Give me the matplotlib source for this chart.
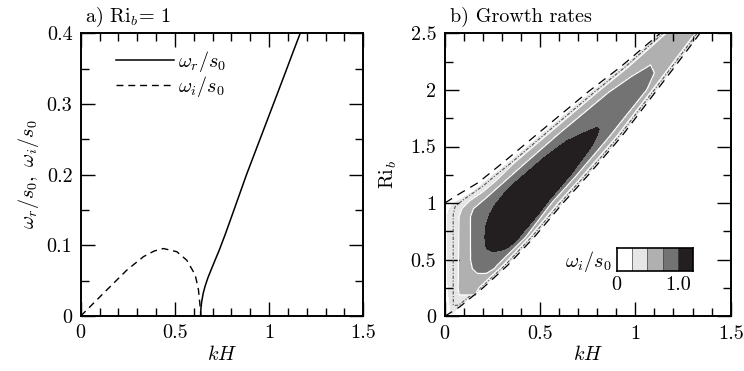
import numpy as np
import matplotlib
matplotlib.use("Agg")
import matplotlib.pyplot as plt
from matplotlib.colors import ListedColormap

plt.rcParams['font.family'] = 'cmr10'
plt.rcParams['mathtext.fontset'] = 'cm'
plt.rcParams['axes.formatter.use_mathtext'] = True
plt.rcParams['font.size'] = 14.5

# ---- panel a) dispersion curves at Ri_b = 1 ----
wr_kh = [0.636, 0.638, 0.642, 0.65, 0.66, 0.675, 0.69, 0.71, 0.735, 0.765, 0.8,
         0.84, 0.88, 0.93, 0.98, 1.03, 1.08, 1.125, 1.165]
wr_val = [0.0, 0.01, 0.02, 0.032, 0.042, 0.054, 0.064, 0.077, 0.093, 0.114, 0.14,
          0.17, 0.2, 0.235, 0.27, 0.305, 0.34, 0.372, 0.4]
wi_kh = [0.0, 0.06, 0.12, 0.245, 0.333, 0.39, 0.439, 0.51, 0.563, 0.608, 0.625, 0.634, 0.638]
wi_val = [0.0, 0.016, 0.032, 0.065, 0.084, 0.092, 0.0955, 0.091, 0.079, 0.058, 0.037, 0.013, 0.0]

# ---- panel b) growth rate contours: edges (Ri, kH) of each level ----
lev_a_left_ri = [0.03, 0.3, 0.9, 0.95, 1.0, 1.05, 1.1, 1.18, 1.35, 1.63, 1.98, 2.2, 2.5, 2.65]
lev_a_left_kh = [0.03, 0.015, 0.015, 0.025, 0.05, 0.1, 0.15, 0.205, 0.33, 0.525, 0.77, 0.935, 1.135, 1.235]
lev_a_right_ri = [0.03, 0.085, 0.25, 0.45, 0.7, 1.0, 1.233, 1.47, 1.59, 2.19, 2.48, 2.65]
lev_a_right_kh = [0.045, 0.075, 0.195, 0.325, 0.465, 0.615, 0.74, 0.862, 0.923, 1.195, 1.325, 1.39]

lev_b_left_ri = [0.1, 0.9, 0.97, 1.02, 1.08, 1.15, 1.25, 1.35, 1.63, 1.98, 2.2, 2.5, 2.65]
lev_b_left_kh = [0.045, 0.045, 0.055, 0.09, 0.14, 0.2, 0.27, 0.345, 0.54, 0.785, 0.945, 1.145, 1.245]
lev_b_right_ri = [0.1, 0.25, 0.45, 0.7, 1.0, 1.233, 1.47, 1.59, 2.19, 2.48, 2.65]
lev_b_right_kh = [0.075, 0.185, 0.315, 0.455, 0.605, 0.73, 0.852, 0.913, 1.185, 1.315, 1.38]

lev_c_left_ri = [0.19, 0.25, 0.88, 0.95, 1.02, 1.1, 1.2, 1.35, 1.63, 1.98, 2.2, 2.5, 2.65]
lev_c_left_kh = [0.075, 0.07, 0.075, 0.09, 0.13, 0.2, 0.27, 0.36, 0.555, 0.8, 0.96, 1.16, 1.26]
lev_c_right_ri = [0.19, 0.25, 0.45, 0.7, 1.0, 1.233, 1.47, 1.59, 2.19, 2.48, 2.65]
lev_c_right_kh = [0.16, 0.18, 0.305, 0.445, 0.595, 0.72, 0.842, 0.903, 1.175, 1.305, 1.37]

lev_d_left_ri = [0.38, 0.42, 0.5, 0.88, 0.95, 1.05, 1.2, 1.35, 1.63, 1.98, 2.12, 2.19, 2.22]
lev_d_left_kh = [0.17, 0.145, 0.135, 0.135, 0.15, 0.22, 0.32, 0.42, 0.61, 0.86, 0.98, 1.05, 1.08]
lev_d_right_ri = [0.38, 0.42, 0.45, 0.7, 1.0, 1.233, 1.47, 1.59, 2.0, 2.15, 2.22]
lev_d_right_kh = [0.22, 0.26, 0.275, 0.425, 0.56, 0.685, 0.805, 0.865, 1.06, 1.1, 1.08]

lev_e_left_ri = [0.575, 0.59, 0.62, 0.7, 0.8, 0.9, 1.0, 1.14, 1.4, 1.55, 1.62, 1.67]
lev_e_left_kh = [0.25, 0.225, 0.215, 0.21, 0.215, 0.235, 0.27, 0.34, 0.52, 0.64, 0.73, 0.8]
lev_e_right_ri = [0.575, 0.58, 0.6, 0.65, 0.7, 0.9, 1.0, 1.26, 1.5, 1.6, 1.65, 1.67]
lev_e_right_kh = [0.25, 0.29, 0.325, 0.365, 0.39, 0.49, 0.535, 0.665, 0.77, 0.8, 0.81, 0.8]

level_values = [0.125, 0.25, 0.5, 0.75, 1.0]

# bounding curves (dashed)
upper_kh = [0.0, 0.08, 0.175, 0.3, 0.5, 0.75, 0.92, 1.13, 1.16]
upper_ri = [1.0, 1.085, 1.18, 1.35, 1.63, 1.98, 2.2, 2.5, 2.54]
lower_kh = [0.0, 0.08, 0.2, 0.33, 0.47, 0.62, 0.745, 0.867, 0.928, 1.2, 1.33, 1.35]
lower_ri = [0.0, 0.085, 0.25, 0.45, 0.7, 1.0, 1.233, 1.47, 1.59, 2.19, 2.48, 2.53]

gray_colors = ['#ffffff', '#e6e6e6', '#b0b0b0', '#737373', '#231f20']
cbar_edges = [0.0, 0.25, 0.5, 0.75, 1.0, 1.25]


def build_field(kh_grid, ri_grid):
    edges = [
        (lev_a_left_ri, lev_a_left_kh, lev_a_right_ri, lev_a_right_kh),
        (lev_b_left_ri, lev_b_left_kh, lev_b_right_ri, lev_b_right_kh),
        (lev_c_left_ri, lev_c_left_kh, lev_c_right_ri, lev_c_right_kh),
        (lev_d_left_ri, lev_d_left_kh, lev_d_right_ri, lev_d_right_kh),
        (lev_e_left_ri, lev_e_left_kh, lev_e_right_ri, lev_e_right_kh),
    ]
    Z = np.zeros((len(ri_grid), len(kh_grid)))
    for i, ri in enumerate(ri_grid):
        lefts, rights, vals = [], [], []
        for (lr, lk, rr, rk), v in zip(edges, level_values):
            if lr[0] <= ri <= lr[-1] and rr[0] <= ri <= rr[-1]:
                lefts.append(np.interp(ri, lr, lk))
                rights.append(np.interp(ri, rr, rk))
                vals.append(v)
        if not vals:
            continue
        peak_x = 0.5 * (lefts[-1] + rights[-1])
        xs = lefts + [peak_x] + rights[::-1]
        vs = vals + [vals[-1] + 0.1] + vals[::-1]
        xs = np.maximum.accumulate(np.array(xs) + np.arange(len(xs)) * 1e-6)
        Z[i] = np.interp(kh_grid, xs, vs, left=0.0, right=0.0)
    return Z


def style_axes(ax):
    for s in ax.spines.values():
        s.set_linewidth(1.4)
    ax.tick_params(which='both', direction='in', top=True, right=True, width=1.0)
    ax.tick_params(which='major', length=10, pad=6)
    ax.tick_params(which='minor', length=5.5)


fig = plt.figure(figsize=(7.44, 3.71), dpi=100)

# ---------------- panel a ----------------
ax1 = fig.add_axes([0.1085, 0.1482, 0.3798, 0.762])
ax1.plot(wr_kh, wr_val, color='black', lw=1.1, label=r'$\omega_r/s_0$')
ax1.plot(wi_kh, wi_val, color='black', lw=1.0, dashes=(5, 3.5), label=r'$\omega_i/s_0$')
ax1.set_xlim(0, 1.5)
ax1.set_ylim(0, 0.4)
ax1.set_xticks([0, 0.5, 1.0, 1.5], ['0', '0.5', '1', '1.5'])
ax1.set_xticks(np.arange(0, 1.5, 0.1), minor=True)
ax1.set_yticks([0, 0.1, 0.2, 0.3, 0.4], ['0', '0.1', '0.2', '0.3', '0.4'])
ax1.set_yticks(np.arange(0, 0.4, 0.05), minor=True)
style_axes(ax1)
ax1.set_xlabel(r'$kH$', labelpad=2)
ax1.set_ylabel(r'$\omega_r/s_0,\ \omega_i/s_0$', labelpad=4)
ax1.text(0.015, 1.04, r'a) Ri$_b$= 1', transform=ax1.transAxes, va='baseline', ha='left')
ax1.legend(loc='upper left', bbox_to_anchor=(0.125, 0.945), frameon=False,
           handlelength=2.9, handletextpad=0.2, labelspacing=0.0,
           borderpad=0, borderaxespad=0)

# ---------------- panel b ----------------
ax2 = fig.add_axes([0.5977, 0.1474, 0.3844, 0.7628])
kh_grid = np.linspace(0, 1.5, 751)
ri_grid = np.linspace(0, 2.6, 521)
Z = build_field(kh_grid, ri_grid)
ax2.contourf(kh_grid, ri_grid, Z, levels=[level_values[0], level_values[2], level_values[3],
                                          level_values[4], 5],
             colors=gray_colors[1:])
ax2.contour(kh_grid, ri_grid, Z, levels=[level_values[1]], colors='#555555',
            linewidths=0.8, linestyles=[(0, (3, 1.5, 1, 1.5))])
ax2.contour(kh_grid, ri_grid, Z, levels=[level_values[2], level_values[3]], colors='white',
            linewidths=0.9)
ax2.plot(upper_kh, upper_ri, color='black', lw=0.9, dashes=(7, 5))
ax2.plot(lower_kh, lower_ri, color='black', lw=0.9, dashes=(7, 5))
ax2.set_xlim(0, 1.5)
ax2.set_ylim(0, 2.5)
ax2.set_xticks([0, 0.5, 1.0, 1.5], ['0', '0.5', '1', '1.5'])
ax2.set_xticks(np.arange(0, 1.5, 0.1), minor=True)
ax2.set_yticks([0, 0.5, 1.0, 1.5, 2.0, 2.5], ['0', '0.5', '1', '1.5', '2', '2.5'])
ax2.set_yticks(np.arange(0, 2.5, 0.25), minor=True)
style_axes(ax2)
ax2.set_xlabel(r'$kH$', labelpad=2)
ax2.set_ylabel(r'Ri$_b$', labelpad=8)
ax2.text(0.02, 1.04, 'b) Growth rates', transform=ax2.transAxes, va='baseline', ha='left')

# colour key
cax = fig.add_axes([616.7 / 744, 1 - 271 / 371, 76.6 / 744, 22.7 / 371])
cax.pcolormesh(cbar_edges, [0, 1], np.array([[0.5, 1.5, 2.5, 3.5, 4.5]]),
               cmap=ListedColormap(gray_colors), vmin=0, vmax=5)
cax.set_xlim(0, 1.25)
cax.set_ylim(0, 1)
cax.set_yticks([])
cax.set_xticks([0, 1.0], ['0', '1.0'])
cax.tick_params(length=0, pad=4)
for s in cax.spines.values():
    s.set_linewidth(1.2)
for x in cbar_edges[1:-1]:
    cax.axvline(x, color='#444444', lw=0.5)
fig.text(612 / 744, 1 - 261 / 371, r'$\omega_i/s_0$', ha='right', va='center')

fig.savefig('out.png', dpi=100)
